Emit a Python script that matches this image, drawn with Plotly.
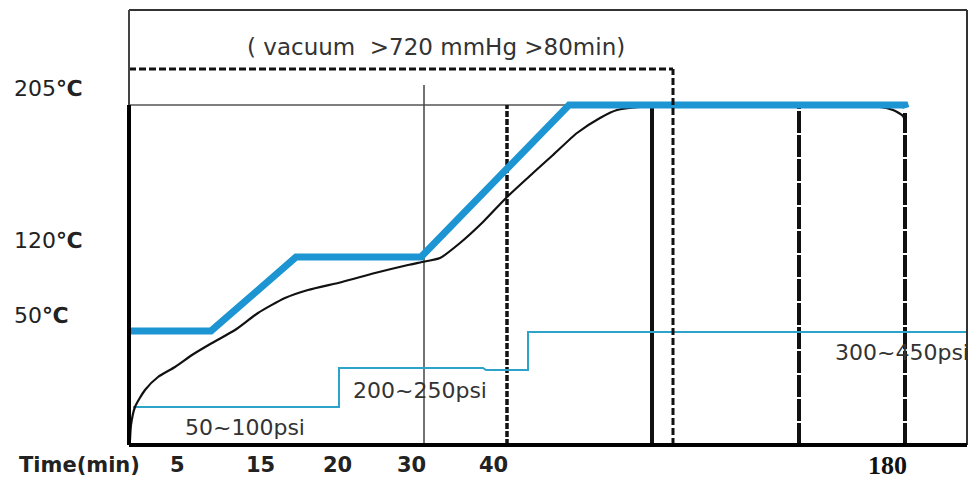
import plotly.graph_objects as go

# ---- schematic data (x: relative time units across the chart, y: relative level units) ----
setpoint_x = [0, 82, 167, 292, 440, 776, 777]
setpoint_y = [114, 114, 188, 188, 340, 340, 337]

actual_x = [1, 2, 6, 16, 29, 46, 63, 83, 106, 129, 156, 179, 213, 246, 279, 293, 311, 331,
            354, 378, 404, 424, 448, 471, 488, 511, 538, 600, 700, 751, 764, 774, 776]
actual_y = [5, 20, 38, 55, 68, 78, 90, 102, 115, 132, 147, 155, 163, 172, 180, 183, 187, 202,
            223, 248, 272, 290, 312, 327, 335, 338, 339, 339, 339, 338, 335, 329, 323]

pressure_x = [4, 210, 210, 354, 357, 399, 399, 838]
pressure_y = [38, 38, 77, 77, 75, 75, 113, 113]
pressure_labels = ["50~100psi", "200~250psi", "300~450psi"]
pressure_label_x = [116, 291, 773]
pressure_label_y = [18, 55, 93]

temp_labels = ["205", "120", "50"]
temp_label_y = [357, 205, 130]
plateau_level = 340

x_tick_labels = ["5", "15", "20", "30", "40"]
x_tick_pos = [48, 131, 208, 282, 364]
end_tick_label = "180"
end_tick_pos = 758

stage_lines = [295, 378, 523, 670, 776]
vacuum_end = 544
vacuum_top = 376
vacuum_text = "( vacuum\u00a0 >720 mmHg >80min)"

FRAME_X, FRAME_Y = 838, 435
X_RANGE = [-121, 848]
Y_RANGE = [-38, 437]

fig = go.Figure()

# pressure
fig.add_trace(go.Scatter(x=pressure_x, y=pressure_y, mode="lines",
                         line=dict(color="#2ea3c9", width=2), hoverinfo="skip"))
# actual temperature
fig.add_trace(go.Scatter(x=actual_x, y=actual_y, mode="lines",
                         line=dict(color="#111111", width=2.2, shape="spline", smoothing=0.6),
                         hoverinfo="skip"))
# setpoint temperature
fig.add_trace(go.Scatter(x=setpoint_x, y=setpoint_y, mode="lines",
                         line=dict(color="#1c95d2", width=7), hoverinfo="skip"))

shapes = []
shapes.append(dict(type="line", xref="x", yref="y", x0=0, x1=setpoint_x[-2], y0=plateau_level, y1=plateau_level,
                   line=dict(color="#555555", width=1.5), layer="below"))
shapes.append(dict(type="line", xref="x", yref="y", x0=stage_lines[0], x1=stage_lines[0], y0=0, y1=360,
                   line=dict(color="#444444", width=1.5), layer="below"))
shapes.append(dict(type="line", xref="x", yref="y", x0=stage_lines[1], x1=stage_lines[1], y0=0, y1=plateau_level,
                   line=dict(color="#111111", width=3.5, dash="6px,2px"), layer="below"))
shapes.append(dict(type="line", xref="x", yref="y", x0=stage_lines[2], x1=stage_lines[2], y0=0, y1=plateau_level - 2,
                   line=dict(color="#111111", width=4), layer="below"))
shapes.append(dict(type="line", xref="x", yref="y", x0=stage_lines[3], x1=stage_lines[3], y0=0, y1=plateau_level - 2,
                   line=dict(color="#111111", width=4, dash="22px,2px"), layer="below"))
shapes.append(dict(type="line", xref="x", yref="y", x0=stage_lines[4], x1=stage_lines[4], y0=0, y1=plateau_level - 8,
                   line=dict(color="#111111", width=4, dash="22px,2px"), layer="below"))
# vacuum dashed box
shapes.append(dict(type="line", xref="x", yref="y", x0=0, x1=vacuum_end, y0=vacuum_top, y1=vacuum_top,
                   line=dict(color="#111111", width=3, dash="7px,3px")))
shapes.append(dict(type="line", xref="x", yref="y", x0=vacuum_end, x1=vacuum_end, y0=0, y1=vacuum_top,
                   line=dict(color="#111111", width=3, dash="7px,3px")))
# frame
shapes.append(dict(type="line", xref="x", yref="y", x0=0, x1=FRAME_X, y0=FRAME_Y, y1=FRAME_Y,
                   line=dict(color="#333333", width=2)))
shapes.append(dict(type="line", xref="x", yref="y", x0=FRAME_X, x1=FRAME_X, y0=0, y1=FRAME_Y,
                   line=dict(color="#333333", width=2)))
shapes.append(dict(type="line", xref="x", yref="y", x0=0, x1=0, y0=plateau_level, y1=FRAME_Y,
                   line=dict(color="#444444", width=2)))
shapes.append(dict(type="line", xref="x", yref="y", x0=0, x1=0, y0=0, y1=plateau_level,
                   line=dict(color="#000000", width=4)))
shapes.append(dict(type="line", xref="x", yref="y", x0=0, x1=FRAME_X, y0=0, y1=0,
                   line=dict(color="#000000", width=4)))

annotations = []
annotations.append(dict(x=307, y=398, xref="x", yref="y", text=vacuum_text, showarrow=False,
                        font=dict(family="DejaVu Sans", size=23, color="#333333")))
for t, px, py in zip(pressure_labels, pressure_label_x, pressure_label_y):
    annotations.append(dict(x=px, y=py, xref="x", yref="y", text=t, showarrow=False,
                            font=dict(family="DejaVu Sans", size=22, color="#333333")))
for t, py in zip(temp_labels, temp_label_y):
    annotations.append(dict(x=-117, y=py, xref="x", yref="y", text=t + "<b>\u2103</b>", showarrow=False,
                            xanchor="left", font=dict(family="DejaVu Sans", size=22, color="#222222")))
annotations.append(dict(x=-50, y=-20, xref="x", yref="y", text="<b>Time(min)</b>", showarrow=False,
                        font=dict(family="DejaVu Sans", size=21, color="#222222")))
for t, px in zip(x_tick_labels, x_tick_pos):
    annotations.append(dict(x=px, y=-20, xref="x", yref="y", text="<b>" + t + "</b>", showarrow=False,
                            font=dict(family="DejaVu Sans", size=21, color="#222222")))
annotations.append(dict(x=end_tick_pos, y=-20, xref="x", yref="y", text="<b>" + end_tick_label + "</b>",
                        showarrow=False, font=dict(family="Liberation Serif", size=26, color="#111111")))

fig.update_layout(
    width=969, height=475,
    margin=dict(l=0, r=0, t=0, b=0),
    paper_bgcolor="white", plot_bgcolor="white",
    showlegend=False,
    xaxis=dict(range=X_RANGE, visible=False, fixedrange=True),
    yaxis=dict(range=Y_RANGE, visible=False, fixedrange=True),
    shapes=shapes, annotations=annotations,
)

fig.write_html("out.html")
